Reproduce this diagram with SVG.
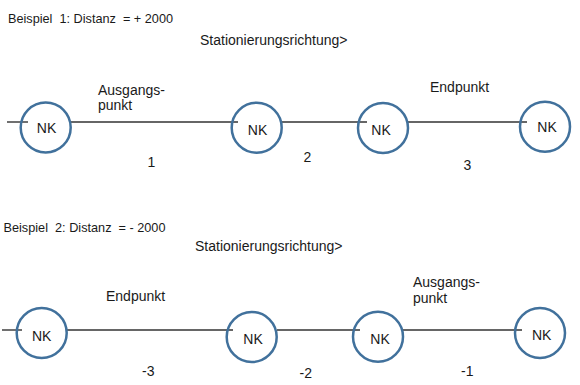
<svg xmlns="http://www.w3.org/2000/svg" width="580" height="385" viewBox="0 0 580 385">
<style>
text{font-family:"Liberation Sans",Arial,sans-serif;fill:#1a1a1a}
.t{font-size:13.6px}
.l{font-size:14px}
.nk{font-size:14px;text-anchor:middle}
.n{font-size:14px;text-anchor:middle}
circle{fill:none;stroke:#41719C;stroke-width:2.5}
line{stroke:#333;stroke-width:1.4}
</style>
<rect width="580" height="385" fill="#fff"/>
<text class="t" x="8" y="23" xml:space="preserve" textLength="165" lengthAdjust="spacingAndGlyphs">Beispiel  1: Distanz  = + 2000</text>
<text class="l" x="200" y="45">Stationierungsrichtung&gt;</text>
<text class="l" x="98" y="95">Ausgangs-</text>
<text class="l" x="98" y="110">punkt</text>
<text class="l" x="430" y="92">Endpunkt</text>
<text class="t" x="3.5" y="232" xml:space="preserve" textLength="162" lengthAdjust="spacingAndGlyphs">Beispiel  2: Distanz  = - 2000</text>
<text class="l" x="195" y="251">Stationierungsrichtung&gt;</text>
<text class="l" x="106" y="301">Endpunkt</text>
<text class="l" x="413" y="287">Ausgangs-</text>
<text class="l" x="413" y="303">punkt</text>
<g id="connectors">
<line x1="7" y1="122" x2="28" y2="122"/>
<line x1="71" y1="122" x2="238" y2="122"/>
<line x1="282" y1="122" x2="367" y2="122"/>
<line x1="408" y1="122" x2="527" y2="122"/>
<line x1="2" y1="330" x2="22" y2="330"/>
<line x1="67" y1="330" x2="233" y2="330"/>
<line x1="277" y1="330" x2="360" y2="330"/>
<line x1="403" y1="330" x2="522" y2="330"/>
</g>
<g id="n1"><circle cx="45.7" cy="127.5" r="25"/><text class="nk" x="46.5" y="133">NK</text></g>
<g id="n2"><circle cx="256.7" cy="127.7" r="25"/><text class="nk" x="257.5" y="135">NK</text></g>
<g id="n3"><circle cx="383" cy="128" r="25"/><text class="nk" x="381" y="135">NK</text></g>
<g id="n4"><circle cx="545" cy="126.7" r="25"/><text class="nk" x="547" y="132">NK</text></g>
<g id="n5"><circle cx="41.7" cy="333" r="25"/><text class="nk" x="41.7" y="340.5">NK</text></g>
<g id="n6"><circle cx="251.7" cy="337" r="25"/><text class="nk" x="253" y="344">NK</text></g>
<g id="n7"><circle cx="378" cy="336.7" r="25"/><text class="nk" x="380" y="344">NK</text></g>
<g id="n8"><circle cx="540" cy="333" r="25"/><text class="nk" x="541.7" y="340">NK</text></g>
<text class="n" x="151.5" y="167">1</text>
<text class="n" x="307.5" y="162">2</text>
<text class="n" x="467.5" y="170">3</text>
<text class="n" x="148.3" y="376">-3</text>
<text class="n" x="305.8" y="378">-2</text>
<text class="n" x="467.3" y="376">-1</text>
</svg>
